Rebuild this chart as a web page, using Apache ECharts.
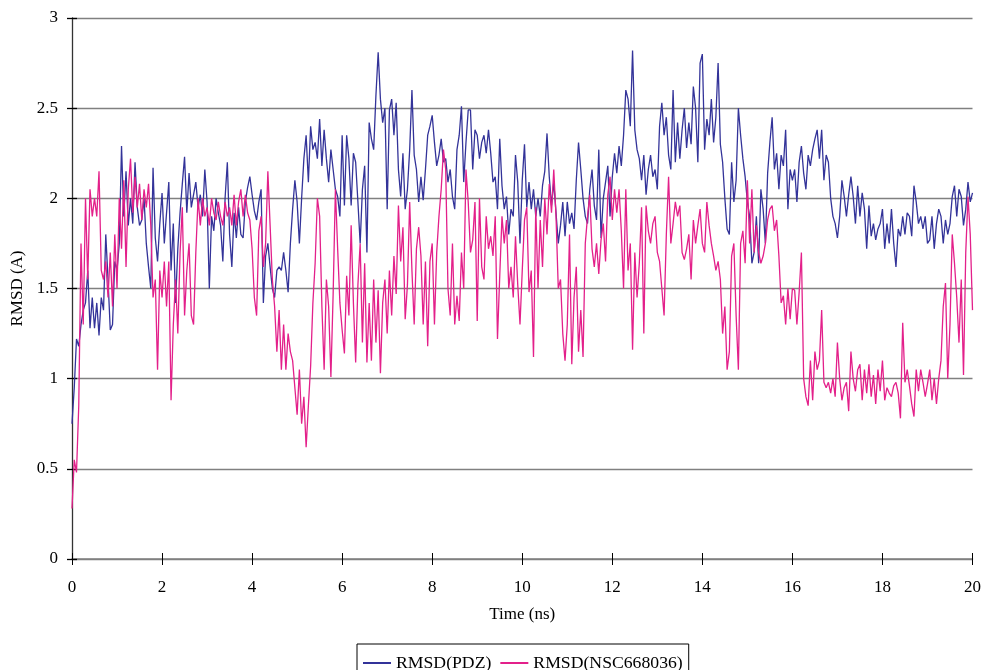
<!DOCTYPE html>
<html>
<head>
<meta charset="utf-8">
<script src="https://cdn.jsdelivr.net/npm/echarts@6/dist/echarts.min.js"></script>
<style>
  html, body { margin: 0; padding: 0; background: #fff; }
  #plot { width: 984px; height: 670px; }
</style>
</head>
<body>
<div id="plot"></div>
<script>
// time axis: one sample every 0.05 ns, 0 .. 20 ns
var timeStep = 0.05;
var xTicks = [0, 2, 4, 6, 8, 10, 12, 14, 16, 18, 20];
var yTicks = [0, 0.5, 1, 1.5, 2, 2.5, 3];
var seriesNames = ['RMSD(PDZ)', 'RMSD(NSC668036)'];

// RMSD(PDZ) (one row = 1 ns)
var rmsdPdz = [
	0.75,0.95,1.22,1.18,1.3,1.38,1.42,1.6,1.28,1.45, 1.28,1.42,1.24,1.45,1.38,1.8,1.55,1.27,1.3,1.65,
	1.6,1.75,2.29,1.9,2.15,1.85,2.0,1.86,2.2,1.95, 1.85,1.88,2.0,1.75,1.62,1.5,2.17,1.78,1.65,1.86,
	2.03,1.75,1.92,2.09,1.6,1.86,1.42,1.72,1.92,2.08, 2.23,1.92,2.14,1.95,2.02,2.09,1.95,2.02,1.9,2.16,
	1.98,1.5,1.9,1.82,2.0,1.92,1.85,1.65,2.0,2.2, 1.8,1.62,1.92,1.78,1.95,1.8,1.78,1.98,2.06,2.12,
	2.02,1.93,1.88,1.98,2.05,1.42,1.68,1.75,1.62,1.5, 1.45,1.6,1.62,1.6,1.7,1.6,1.48,1.75,1.94,2.1,
	1.98,1.75,2.0,2.22,2.35,2.09,2.4,2.27,2.31,2.22, 2.44,2.18,2.38,2.22,2.09,2.27,2.16,2.05,2.01,1.9,
	2.35,1.96,2.35,2.22,1.96,2.25,2.2,1.98,1.75,2.05, 2.18,1.7,2.42,2.33,2.27,2.57,2.81,2.55,2.42,2.5,
	1.94,2.49,2.55,2.35,2.53,2.16,2.01,2.25,1.94,2.05, 2.27,2.6,2.24,2.16,1.98,2.12,1.99,2.16,2.35,2.4,
	2.46,2.31,2.18,2.24,2.33,2.2,2.22,2.09,2.16,2.01, 1.94,2.27,2.35,2.51,2.09,2.31,2.49,2.49,2.16,2.38,
	2.35,2.22,2.31,2.35,2.25,2.38,2.25,2.09,2.12,1.94, 2.33,2.07,1.94,2.01,1.8,1.94,1.9,2.24,2.09,1.75,
	2.1,2.3,1.95,2.09,1.94,2.05,1.9,2.0,1.9,2.07, 2.15,2.36,2.12,1.96,2.09,1.92,1.75,1.85,1.98,1.79,
	1.98,1.86,1.92,1.83,2.1,2.31,2.16,2.0,1.9,1.86, 2.05,2.16,1.96,1.88,2.27,1.78,2.0,2.09,2.18,1.9,
	2.12,2.25,2.14,2.29,2.18,2.35,2.6,2.55,2.4,2.82, 2.38,2.27,2.22,2.1,2.24,2.02,2.16,2.24,2.12,2.16,
	2.05,2.4,2.53,2.35,2.45,2.24,2.16,2.6,2.2,2.42, 2.22,2.38,2.5,2.28,2.42,2.3,2.62,2.5,2.2,2.75,
	2.8,2.27,2.44,2.35,2.55,2.31,2.45,2.75,2.3,2.2, 2.0,1.83,1.8,2.2,1.98,2.1,2.5,2.35,2.22,2.12,
	1.98,1.9,1.64,1.7,1.9,1.64,2.05,1.94,1.75,2.14, 2.31,2.45,2.16,2.25,2.05,2.24,2.18,2.38,1.94,2.16,
	2.1,2.16,1.98,2.2,2.29,2.14,2.05,2.24,2.18,2.27, 2.33,2.38,2.22,2.38,2.1,2.24,2.2,2.0,1.9,1.86,
	1.78,1.9,2.1,2.01,1.9,2.02,2.12,2.01,1.86,2.07, 1.9,2.03,1.94,1.72,1.96,1.79,1.86,1.77,1.83,1.86,
	1.94,1.72,1.86,1.75,1.94,1.75,1.62,1.83,1.79,1.9, 1.8,1.92,1.9,1.79,2.07,1.98,1.86,1.9,1.83,1.9,
	1.75,1.77,1.9,1.72,1.86,1.94,1.9,1.75,1.88,1.8, 1.86,2.01,2.07,1.9,2.05,2.01,1.85,1.94,2.09,1.98,
	2.03
];

// RMSD(NSC668036) (one row = 1 ns)
var rmsdNsc = [
	0.28,0.55,0.48,0.85,1.75,1.3,2.0,1.55,2.05,1.9, 2.0,1.9,2.15,1.6,1.55,1.65,1.45,1.7,1.4,1.8,
	1.5,2.0,1.72,2.1,1.62,2.05,2.22,1.92,2.12,1.95, 2.08,1.88,2.05,1.95,2.08,1.85,1.45,1.55,1.05,1.6,
	1.45,1.65,1.4,1.65,0.88,1.3,1.55,1.25,1.7,1.95, 1.35,1.6,1.75,1.35,1.3,1.7,2.0,1.85,2.0,1.9,
	1.95,1.85,2.0,1.92,1.88,1.98,1.9,1.85,1.98,1.9, 1.95,1.85,2.02,1.85,1.98,2.05,1.9,2.02,1.92,1.88,
	1.72,1.45,1.35,1.82,1.9,1.62,1.75,2.15,1.85,1.55, 1.4,1.15,1.38,1.05,1.3,1.05,1.25,1.15,1.1,0.95,
	0.8,1.05,0.75,0.9,0.62,0.85,1.07,1.42,1.64,2.0, 1.9,1.4,1.05,1.55,1.4,1.01,1.47,2.05,1.72,1.42,
	1.27,1.14,1.57,1.35,1.85,1.42,1.09,1.52,1.75,1.2, 1.64,1.09,1.42,1.1,1.55,1.2,1.49,1.03,1.42,1.55,
	1.25,1.6,1.35,1.68,1.47,1.96,1.65,1.84,1.33,1.52, 1.98,1.6,1.3,1.72,1.84,1.68,1.3,1.65,1.18,1.65,
	1.75,1.3,1.7,1.9,2.05,2.27,2.16,1.5,1.35,1.75, 1.3,1.46,1.32,1.7,1.5,2.16,1.98,1.7,1.77,1.98,
	1.32,2.0,1.62,1.55,1.9,1.72,1.79,1.68,1.9,1.22, 1.57,1.9,1.75,1.88,1.5,1.62,1.45,1.79,1.52,1.3,
	1.6,1.88,1.95,1.48,1.6,1.12,1.95,1.5,1.88,1.62, 2.0,1.8,2.08,1.92,2.16,1.9,1.5,1.55,1.25,1.1,
	1.3,1.8,1.08,1.45,1.62,1.15,1.38,1.12,1.75,1.9, 2.02,1.72,1.62,1.75,1.58,1.77,1.86,1.65,2.02,2.12,
	1.88,2.05,1.92,2.05,1.82,1.5,2.05,1.6,1.75,1.16, 1.7,1.45,1.64,1.95,1.25,1.96,1.82,1.75,1.86,1.9,
	1.7,1.65,1.5,1.35,1.8,2.12,1.75,1.86,1.98,1.9, 1.96,1.7,1.66,1.72,1.8,1.55,1.88,1.75,1.85,1.94,
	1.75,1.7,1.98,1.85,1.75,1.68,1.6,1.65,1.55,1.25, 1.4,1.05,1.15,1.68,1.75,1.35,1.05,1.75,1.82,1.64,
	2.1,1.75,2.05,1.7,1.85,1.7,1.64,1.68,1.75,1.88, 1.94,1.96,1.82,1.88,1.68,1.42,1.46,1.3,1.5,1.33,
	1.5,1.49,1.3,1.48,1.7,1.0,0.9,0.85,1.1,0.88, 1.15,1.05,1.1,1.38,0.98,0.95,0.98,0.92,1.0,0.9,
	1.2,1.0,0.88,0.95,0.98,0.82,1.15,1.0,0.93,1.05, 1.08,0.88,1.05,0.92,1.08,0.9,1.02,0.86,1.05,0.93,
	1.1,0.88,0.95,0.92,0.9,0.96,0.98,0.92,0.78,1.31, 0.98,1.05,0.96,0.86,0.79,1.05,0.93,1.05,0.98,0.9,
	0.97,1.05,0.88,1.0,0.86,1.0,1.1,1.4,1.53,1.0, 1.3,1.8,1.64,1.45,1.2,1.55,1.02,1.7,2.01,1.8,
	1.38
];

function toPairs (values) {
	var out = [];
	for (var i = 0; i < values.length; i++) {
		out.push([+(i * timeStep).toFixed(2), values[i]]);
	}
	return out;
}

var font = 'Liberation Serif, Times New Roman, serif';

var option = {
	animation: false,
	backgroundColor: '#fff',
	textStyle: { fontFamily: font, color: '#000' },
	grid: { left: 72, right: 9, top: 18, bottom: 111, containLabel: false },
	legend: {
		data: seriesNames,
		left: 357,
		top: 644,
		icon: 'rect',
		itemWidth: 28,
		itemHeight: 2,
		itemGap: 9,
		padding: [10, 6, 9, 6],
		borderColor: '#000',
		borderWidth: 1,
		borderRadius: 0,
		textStyle: { fontFamily: font, fontSize: 17.7, color: '#000' }
	},
	xAxis: [{
		type: 'value',
		min: 0, max: 20, interval: 2,
		name: 'Time (ns)',
		nameLocation: 'middle',
		nameGap: 47,
		nameTextStyle: { fontFamily: font, fontSize: 17, color: '#000' },
		axisLine: { lineStyle: { color: '#808080', width: 1.5 } },
		axisTick: { show: true, length: 6, lineStyle: { color: '#000', width: 1 } },
		axisLabel: { margin: 20, fontFamily: font, fontSize: 17, color: '#000',
			formatter: function (v) { return xTicks.indexOf(v) >= 0 ? String(v) : ''; } },
		splitLine: { show: false }
	}, {
		// inner half of the crossing tick marks
		type: 'value', position: 'bottom',
		min: 0, max: 20, interval: 2,
		axisLine: { show: false },
		axisTick: { show: true, inside: true, length: 6, lineStyle: { color: '#000', width: 1 } },
		axisLabel: { show: false },
		splitLine: { show: false }
	}],
	yAxis: [{
		type: 'value',
		min: 0, max: 3, interval: 0.5,
		name: 'RMSD (A)',
		nameLocation: 'middle',
		nameGap: 44,
		nameTextStyle: { fontFamily: font, fontSize: 17, color: '#000' },
		axisLine: { show: true, lineStyle: { color: '#333', width: 1.3 } },
		axisTick: { show: true, length: 5, lineStyle: { color: '#000', width: 1.3 } },
		axisLabel: { margin: 14, fontFamily: font, fontSize: 17, color: '#000',
			formatter: function (v) { return yTicks.indexOf(v) >= 0 ? String(v) : ''; } },
		splitLine: { show: true, lineStyle: { color: '#808080', width: 1.4 } }
	}, {
		type: 'value', position: 'left',
		min: 0, max: 3, interval: 0.5,
		axisLine: { show: false },
		axisTick: { show: true, inside: true, length: 5, lineStyle: { color: '#000', width: 1.3 } },
		axisLabel: { show: false },
		splitLine: { show: false }
	}],
	series: [
		{
			name: seriesNames[0],
			type: 'line',
			data: toPairs(rmsdPdz),
			showSymbol: false,
			symbol: 'none',
			color: '#333399',
			lineStyle: { color: '#333399', width: 1.3 },
			z: 3
		},
		{
			name: seriesNames[1],
			type: 'line',
			data: toPairs(rmsdNsc),
			showSymbol: false,
			symbol: 'none',
			color: '#E3208A',
			lineStyle: { color: '#E3208A', width: 1.3 },
			z: 4
		}
	]
};

var myChart = echarts.init(document.getElementById('plot'), null, { renderer: 'canvas' });
myChart.setOption(option);
</script>
</body>
</html>
